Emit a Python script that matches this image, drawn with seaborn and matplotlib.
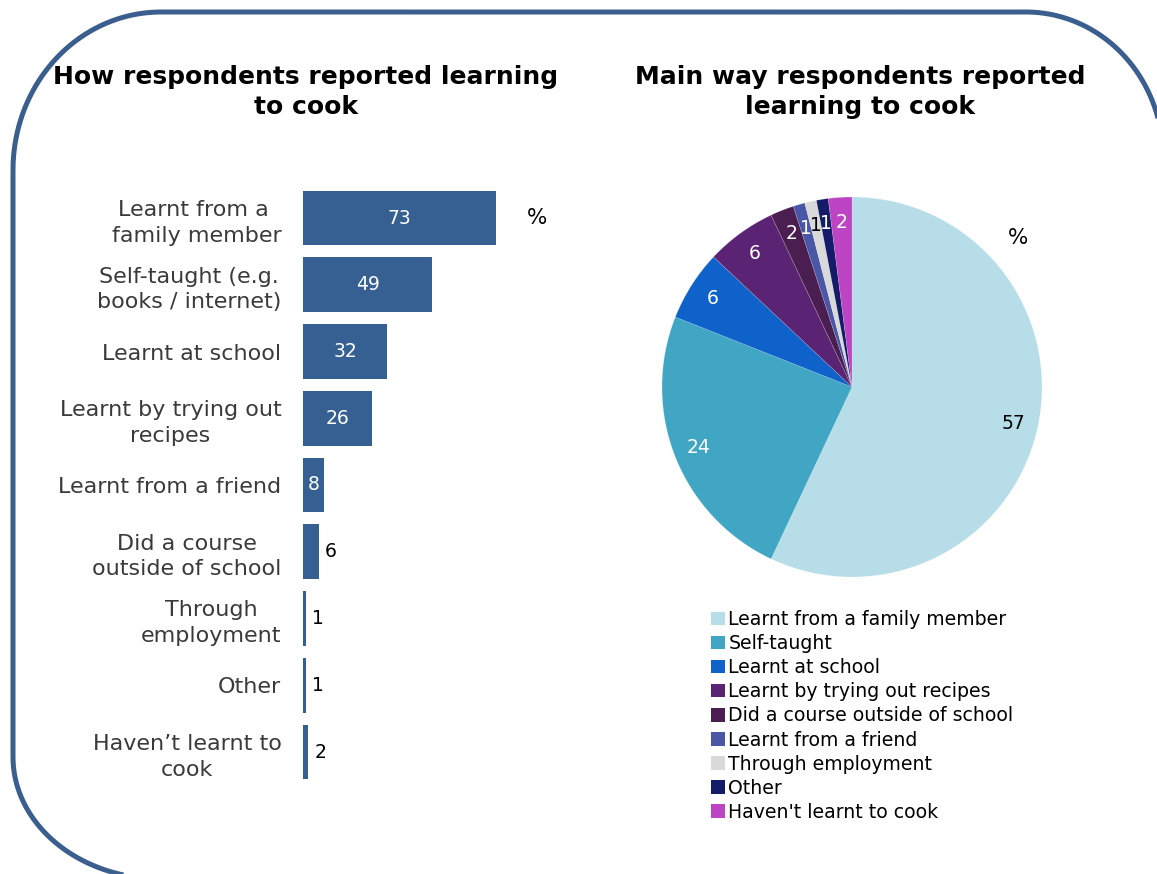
import numpy as np
import pandas as pd
import matplotlib
matplotlib.use("Agg")
import matplotlib.pyplot as plt
from matplotlib.path import Path
from matplotlib.patches import PathPatch, Patch
import seaborn as sns

# Left panel: all ways respondents learnt to cook (multiple answers, %)
bar_categories = [
    "Learnt from a \nfamily member",
    "Self-taught (e.g.\nbooks / internet)",
    "Learnt at school",
    "Learnt by trying out\nrecipes",
    "Learnt from a friend",
    "Did a course\noutside of school",
    "Through\nemployment",
    "Other",
    "Haven\u2019t learnt to\ncook",
]
bar_values = [73, 49, 32, 26, 8, 6, 1, 1, 2]

# Right panel: main way respondents learnt to cook (%)
pie_labels = [
    "Learnt from a family member",
    "Self-taught",
    "Learnt at school",
    "Learnt by trying out recipes",
    "Did a course outside of school",
    "Learnt from a friend",
    "Through employment",
    "Other",
    "Haven't learnt to cook",
]
pie_values = [57, 24, 6, 6, 2, 1, 1, 1, 2]
pie_colors = ["#B7DEE8", "#40A6C4", "#0F62C9", "#5A2373", "#4A1E50",
              "#4A56A6", "#D9D9D9", "#141C6A", "#BD45C4"]
pie_label_colors = ["#000000", "white", "white", "white", "white",
                    "white", "#000000", "white", "white"]

bar_color = "#366092"
frame_color = "#3A5F8F"
text_grey = "#3A3A3A"

sns.set_theme(style="white")
plt.rcParams["font.family"] = ["DejaVu Sans"]
plt.rcParams["text.color"] = "black"

W, H = 1157, 874
fig = plt.figure(figsize=(W / 100, H / 100), dpi=100)
fig.patch.set_facecolor("white")

# Rounded frame drawn in pixel coordinates (right and bottom edges run off the canvas)
frame_ax = fig.add_axes([0, 0, 1, 1], zorder=0)
frame_ax.set_xlim(0, W)
frame_ax.set_ylim(H, 0)
frame_ax.axis("off")
left, top, right, bottom = 13, 12, 1163, 879
t = np.linspace(0, np.pi / 2, 80)
tl, tr, br, bl = (148, 158), (137, 145), (10, 10), (148, 122)
pts = []
pts += list(zip(left + tl[0] - tl[0] * np.cos(t), top + tl[1] - tl[1] * np.sin(t)))
pts += list(zip(right - tr[0] + tr[0] * np.sin(t), top + tr[1] - tr[1] * np.cos(t)))
pts += list(zip(right - br[0] + br[0] * np.cos(t), bottom - br[1] + br[1] * np.sin(t)))
pts += list(zip(left + bl[0] - bl[0] * np.sin(t), bottom - bl[1] + bl[1] * np.cos(t)))
pts.append(pts[0])
frame_ax.add_patch(PathPatch(Path(pts), facecolor="none",
                             edgecolor=frame_color, lw=3.6))

# ---- Bar chart ----
px_per_unit = 2.64
ax_left_px, ax_w_units = 303, 100
row = 66.75
y_top = 218 - row / 2
y_bot = 752 + row / 2
ax_bar = fig.add_axes([ax_left_px / W, 1 - y_bot / H,
                       ax_w_units * px_per_unit / W, (y_bot - y_top) / H])
df = pd.DataFrame({"category": bar_categories, "value": bar_values})
sns.barplot(data=df, x="value", y="category", orient="h", color=bar_color,
            saturation=1, width=0.82, linewidth=0, ax=ax_bar)
ax_bar.set_xlim(0, ax_w_units)
ax_bar.set_ylim(len(bar_values) - 0.5, -0.5)
for s in ax_bar.spines.values():
    s.set_visible(False)
ax_bar.set_xticks([])
ax_bar.set_xlabel("")
ax_bar.set_ylabel("")
ax_bar.tick_params(axis="y", left=False, pad=9.5, labelsize=16,
                   labelcolor=text_grey)
for lbl in ax_bar.get_yticklabels():
    lbl.set_multialignment("center")
    lbl.set_linespacing(1.35)
ax_bar.set_facecolor("none")

cont = ax_bar.containers[0]
ax_bar.bar_label(cont, labels=[str(v) if v >= 8 else "" for v in bar_values],
                 label_type="center", color="white", fontsize=13.5)
ax_bar.bar_label(cont, labels=[str(v) if v < 8 else "" for v in bar_values],
                 label_type="edge", padding=4.5, color="black", fontsize=13.5)

fig.text(537 / W, 1 - 218 / H, "%", ha="center", va="center", fontsize=15.5)

# ---- Pie chart ----
cx, cy, R = 852, 387, 190
ax_pie = fig.add_axes([(cx - R) / W, 1 - (cy + R) / H, 2 * R / W, 2 * R / H])
wedges, _, autotexts = ax_pie.pie(
    pie_values, colors=pie_colors, startangle=90, counterclock=False,
    radius=1, autopct=lambda p: f"{p:.0f}", pctdistance=0.87,
    wedgeprops=dict(linewidth=0.4, edgecolor="#ffffff40"),
    textprops=dict(fontsize=13.5),
)
for txt, c in zip(autotexts, pie_label_colors):
    txt.set_color(c)
ax_pie.set_xlim(-1, 1)
ax_pie.set_ylim(-1, 1)
ax_pie.axis("off")

fig.text(1018 / W, 1 - 238 / H, "%", ha="center", va="center", fontsize=15.5)

handles = [Patch(facecolor=c, edgecolor="none") for c in pie_colors]
fig.legend(handles, pie_labels, loc="upper left",
           bbox_to_anchor=(711 / W, 1 - 610 / H), frameon=False,
           fontsize=13.6, handlelength=0.72, handleheight=0.72,
           handletextpad=0.2, labelspacing=0.27, borderaxespad=0,
           borderpad=0, labelcolor="black")

# Panel titles
fig.text(306 / W, 1 - 92 / H, "How respondents reported learning\nto cook",
         ha="center", va="center", fontsize=18, fontweight="bold",
         linespacing=1.3, color="black")
fig.text(860 / W, 1 - 92 / H, "Main way respondents reported\nlearning to cook",
         ha="center", va="center", fontsize=18, fontweight="bold",
         linespacing=1.3, color="black")

fig.savefig("out.png", dpi=100, facecolor="white")
